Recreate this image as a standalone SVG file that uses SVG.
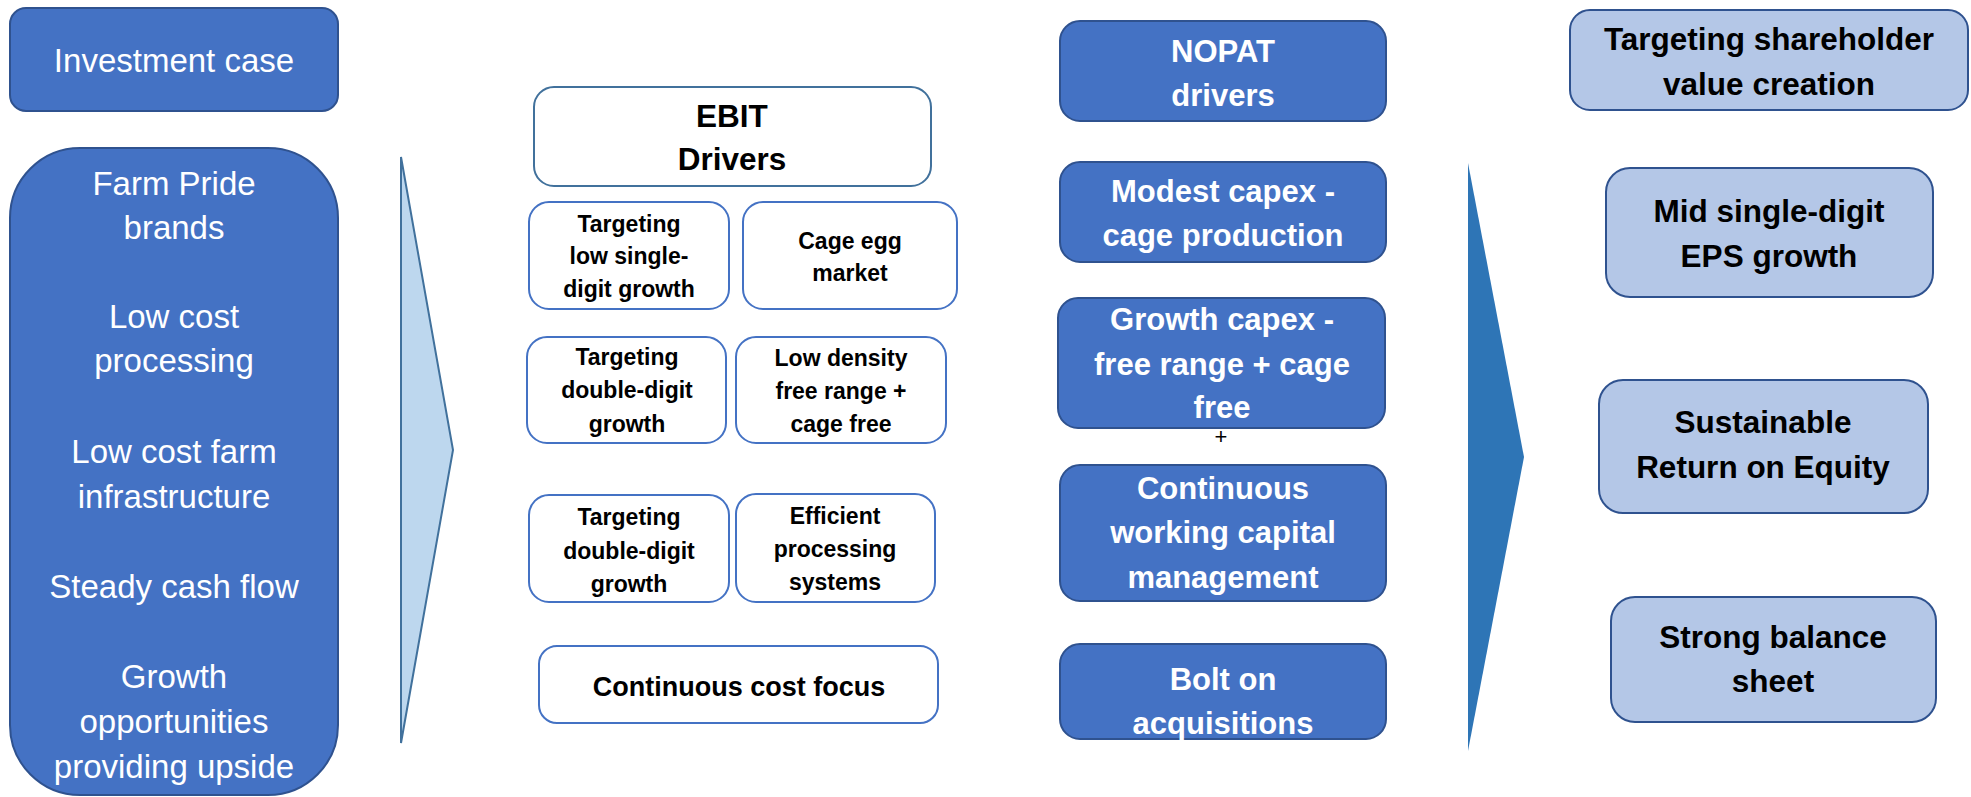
<svg xmlns="http://www.w3.org/2000/svg" width="1971" height="797" viewBox="0 0 1971 797">
<style>
.dk{fill:#4472C4;stroke:#2F528F;stroke-width:2}
.lt{fill:#B4C7E7;stroke:#2F528F;stroke-width:2}
.wb{fill:#FFFFFF;stroke:#4472C4;stroke-width:2}
.wh{fill:#FFFFFF;font-family:"Liberation Sans",Arial,sans-serif;font-size:33px;text-anchor:middle}
.wbld{fill:#FFFFFF;font-family:"Liberation Sans",Arial,sans-serif;font-size:31px;font-weight:bold;text-anchor:middle}
.bk{fill:#000000;font-family:"Liberation Sans",Arial,sans-serif;font-size:23px;font-weight:bold;text-anchor:middle}
.bkl{fill:#000000;font-family:"Liberation Sans",Arial,sans-serif;font-size:31.5px;font-weight:bold;text-anchor:middle}
.big{font-size:27px}
</style>
<rect width="1971" height="797" fill="#FFFFFF"/>
<g id="connectors">
<polygon points="401,157 453,450 401,743" fill="#BDD7EE" stroke="#41719C" stroke-width="2"/>
<polygon points="1468,163 1524,457 1468,751" fill="#2E75B6"/>
</g>
<g id="investment-case">
<rect class="dk" x="10" y="8" width="328" height="103" rx="16"/>
<text class="wh" x="174" y="72">Investment case</text>
</g>
<g id="case-points">
<rect class="dk" x="10" y="148" width="328" height="647" rx="70"/>
<text class="wh" x="174" y="195">Farm Pride</text>
<text class="wh" x="174" y="239">brands</text>
<text class="wh" x="174" y="328">Low cost</text>
<text class="wh" x="174" y="372">processing</text>
<text class="wh" x="174" y="463">Low cost farm</text>
<text class="wh" x="174" y="508">infrastructure</text>
<text class="wh" x="174" y="598">Steady cash flow</text>
<text class="wh" x="174" y="688">Growth</text>
<text class="wh" x="174" y="733">opportunities</text>
<text class="wh" x="174" y="778">providing upside</text>
</g>
<g id="ebit-drivers">
<rect x="534" y="87" width="397" height="99" rx="20" fill="#FFFFFF" stroke="#41719C" stroke-width="2"/>
<text class="bkl" x="732" y="127">EBIT</text>
<text class="bkl" x="732" y="170">Drivers</text>
</g>
<g id="ebit-low-single">
<rect class="wb" x="529" y="202" width="200" height="107" rx="20"/>
<text class="bk" x="629" y="232">Targeting</text>
<text class="bk" x="629" y="264">low single-</text>
<text class="bk" x="629" y="297">digit growth</text>
</g>
<g id="ebit-cage-egg">
<rect class="wb" x="743" y="202" width="214" height="107" rx="20"/>
<text class="bk" x="850" y="249">Cage egg</text>
<text class="bk" x="850" y="281">market</text>
</g>
<g id="ebit-double-1">
<rect class="wb" x="527" y="337" width="199" height="106" rx="20"/>
<text class="bk" x="627" y="365">Targeting</text>
<text class="bk" x="627" y="398">double-digit</text>
<text class="bk" x="627" y="432">growth</text>
</g>
<g id="ebit-free-range">
<rect class="wb" x="736" y="337" width="210" height="106" rx="20"/>
<text class="bk" x="841" y="366">Low density</text>
<text class="bk" x="841" y="399">free range +</text>
<text class="bk" x="841" y="432">cage free</text>
</g>
<g id="ebit-double-2">
<rect class="wb" x="529" y="495" width="200" height="107" rx="20"/>
<text class="bk" x="629" y="525">Targeting</text>
<text class="bk" x="629" y="559">double-digit</text>
<text class="bk" x="629" y="592">growth</text>
</g>
<g id="ebit-processing">
<rect class="wb" x="736" y="494" width="199" height="108" rx="20"/>
<text class="bk" x="835" y="524">Efficient</text>
<text class="bk" x="835" y="557">processing</text>
<text class="bk" x="835" y="590">systems</text>
</g>
<g id="ebit-cost-focus">
<rect class="wb" x="539" y="646" width="399" height="77" rx="18"/>
<text class="bk big" x="739" y="696">Continuous cost focus</text>
</g>
<g id="nopat-drivers">
<rect class="dk" x="1060" y="21" width="326" height="100" rx="20"/>
<text class="wbld" x="1223" y="62">NOPAT</text>
<text class="wbld" x="1223" y="106">drivers</text>
</g>
<g id="nopat-modest-capex">
<rect class="dk" x="1060" y="162" width="326" height="100" rx="20"/>
<text class="wbld" x="1223" y="202">Modest capex -</text>
<text class="wbld" x="1223" y="246">cage production</text>
</g>
<g id="nopat-growth-capex">
<rect class="dk" x="1058" y="298" width="327" height="130" rx="20"/>
<text class="wbld" x="1222" y="330">Growth capex -</text>
<text class="wbld" x="1222" y="375">free range + cage</text>
<text class="wbld" x="1222" y="418">free</text>
</g>
<text x="1221" y="444" font-family="Liberation Sans, Arial, sans-serif" font-size="22" text-anchor="middle" fill="#000000">+</text>
<g id="nopat-working-capital">
<rect class="dk" x="1060" y="465" width="326" height="136" rx="20"/>
<text class="wbld" x="1223" y="499">Continuous</text>
<text class="wbld" x="1223" y="543">working capital</text>
<text class="wbld" x="1223" y="588">management</text>
</g>
<g id="nopat-bolt-on">
<rect class="dk" x="1060" y="644" width="326" height="95" rx="20"/>
<text class="wbld" x="1223" y="690">Bolt on</text>
<text class="wbld" x="1223" y="734">acquisitions</text>
</g>
<g id="target-shareholder">
<rect class="lt" x="1570" y="10" width="398" height="100" rx="20"/>
<text class="bkl" x="1769" y="50">Targeting shareholder</text>
<text class="bkl" x="1769" y="95">value creation</text>
</g>
<g id="target-eps">
<rect class="lt" x="1606" y="168" width="327" height="129" rx="24"/>
<text class="bkl" x="1769" y="222">Mid single-digit</text>
<text class="bkl" x="1769" y="267">EPS growth</text>
</g>
<g id="target-roe">
<rect class="lt" x="1599" y="380" width="329" height="133" rx="24"/>
<text class="bkl" x="1763" y="433">Sustainable</text>
<text class="bkl" x="1763" y="478">Return on Equity</text>
</g>
<g id="target-balance">
<rect class="lt" x="1611" y="597" width="325" height="125" rx="24"/>
<text class="bkl" x="1773" y="648">Strong balance</text>
<text class="bkl" x="1773" y="692">sheet</text>
</g>
</svg>
